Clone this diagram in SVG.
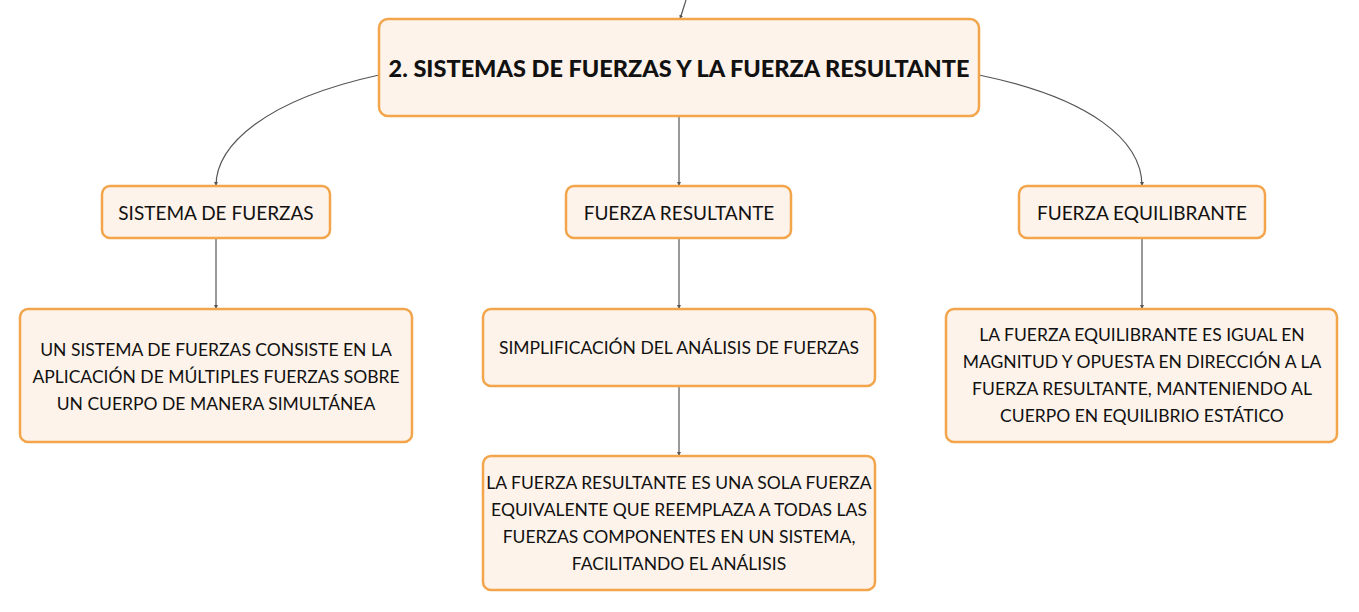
<svg xmlns="http://www.w3.org/2000/svg" width="1359" height="612" viewBox="0 0 1359 612">
<style>
.box{fill:#fdf3ea;stroke:#f3a54c;stroke-width:2.5}
.t{font-family:Lato,"Open Sans","Liberation Sans",sans-serif;fill:#111;text-anchor:middle;dominant-baseline:central}
.h{font-size:19px}
.b{font-size:17.5px}
.title{font-size:23.5px;font-weight:900}
.c{fill:none;stroke:#555;stroke-width:1.2;marker-end:url(#ah)}
</style>
<defs>
<marker id="ah" viewBox="0 0 6 6" refX="6" refY="3" markerWidth="4" markerHeight="4" markerUnits="userSpaceOnUse" orient="auto">
<path d="M0,0 L6,3 L0,6 z" fill="#555"/>
</marker>
</defs>
<rect width="1359" height="612" fill="#ffffff"/>
<g id="connectors">
<path class="c" d="M686,0 L680,19"/>
<path class="c" d="M379,75 C265,100 216,145 216,186"/>
<path class="c" d="M979,75 C1090,98 1142,140 1142,186"/>
<path class="c" d="M679,116 L679,186"/>
<path class="c" d="M216,238 L216,309"/>
<path class="c" d="M679,238 L679,309"/>
<path class="c" d="M679,386 L679,456"/>
<path class="c" d="M1142,238 L1142,309"/>
</g>
<g id="main">
<rect class="box" x="379" y="19" width="600" height="97" rx="9"/>
<text class="t title" x="679" y="68">2. SISTEMAS DE FUERZAS Y LA FUERZA RESULTANTE</text>
</g>
<g id="sistema">
<rect class="box" x="102" y="186" width="228" height="52" rx="8"/>
<text class="t h" x="216" y="212">SISTEMA DE FUERZAS</text>
</g>
<g id="resultante">
<rect class="box" x="566" y="186" width="225" height="52" rx="8"/>
<text class="t h" x="679" y="212">FUERZA RESULTANTE</text>
</g>
<g id="equilibrante">
<rect class="box" x="1019" y="186" width="246" height="52" rx="8"/>
<text class="t h" x="1142" y="212">FUERZA EQUILIBRANTE</text>
</g>
<g id="sistema-def">
<rect class="box" x="20" y="309" width="392" height="133" rx="8"/>
<text class="t b" x="216" y="349">UN SISTEMA DE FUERZAS CONSISTE EN LA</text>
<text class="t b" x="216" y="376">APLICACIÓN DE MÚLTIPLES FUERZAS SOBRE</text>
<text class="t b" x="216" y="403">UN CUERPO DE MANERA SIMULTÁNEA</text>
</g>
<g id="simplificacion">
<rect class="box" x="483" y="309" width="392" height="77" rx="8"/>
<text class="t b" x="679" y="347">SIMPLIFICACIÓN DEL ANÁLISIS DE FUERZAS</text>
</g>
<g id="resultante-def">
<rect class="box" x="483" y="456" width="392" height="134" rx="8"/>
<text class="t b" x="679" y="482">LA FUERZA RESULTANTE ES UNA SOLA FUERZA</text>
<text class="t b" x="679" y="509">EQUIVALENTE QUE REEMPLAZA A TODAS LAS</text>
<text class="t b" x="679" y="536">FUERZAS COMPONENTES EN UN SISTEMA,</text>
<text class="t b" x="679" y="563">FACILITANDO EL ANÁLISIS</text>
</g>
<g id="equilibrante-def">
<rect class="box" x="946" y="309" width="391" height="133" rx="8"/>
<text class="t b" x="1142" y="334">LA FUERZA EQUILIBRANTE ES IGUAL EN</text>
<text class="t b" x="1142" y="361">MAGNITUD Y OPUESTA EN DIRECCIÓN A LA</text>
<text class="t b" x="1142" y="388">FUERZA RESULTANTE, MANTENIENDO AL</text>
<text class="t b" x="1142" y="415">CUERPO EN EQUILIBRIO ESTÁTICO</text>
</g>
</svg>
